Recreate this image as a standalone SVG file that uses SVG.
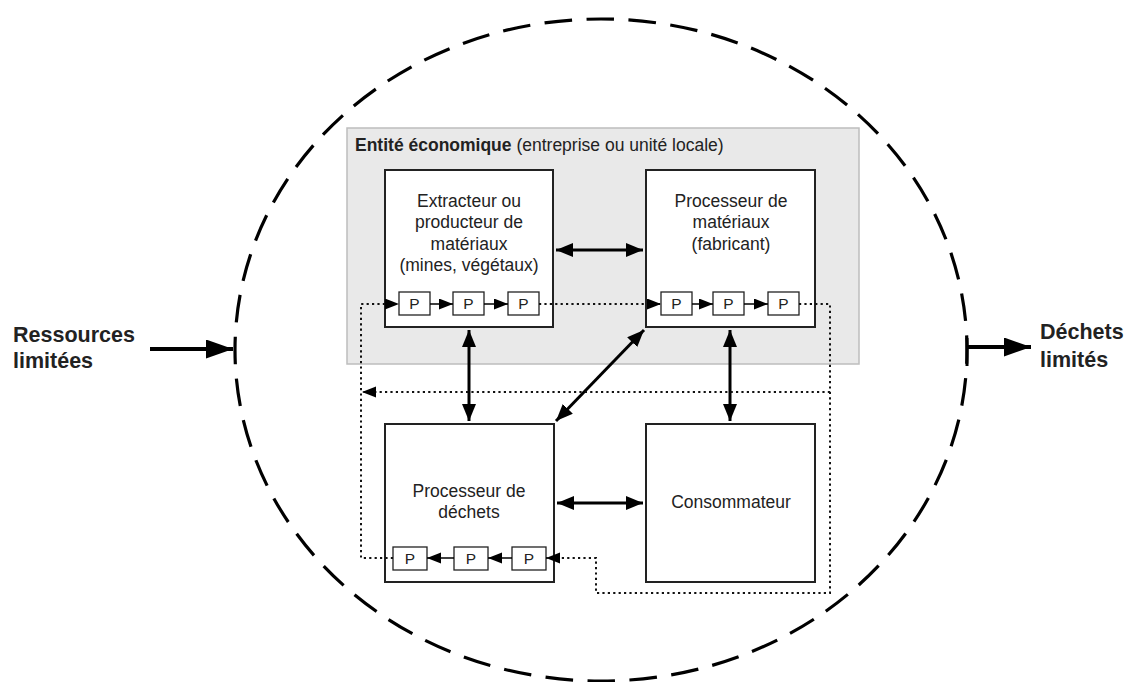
<svg xmlns="http://www.w3.org/2000/svg" width="1129" height="682" viewBox="0 0 1129 682">
<style>
text{font-family:"Liberation Sans",Arial,sans-serif;fill:#222}
.t{font-size:17.5px;text-anchor:middle}
.b{font-size:21.5px;font-weight:bold}
.p{font-size:15.5px;text-anchor:middle}
.box{fill:#fff;stroke:#222;stroke-width:2}
.pb{fill:#fff;stroke:#222;stroke-width:1.3}
.thick{fill:none;stroke:#000;stroke-width:3;marker-start:url(#th);marker-end:url(#th)}
.sm{fill:none;stroke:#000;stroke-width:1.5;marker-end:url(#sa)}
.dotA{fill:none;stroke:#111;stroke-width:2;stroke-dasharray:2.2 3.2;marker-end:url(#sa)}
</style>
<defs>
<marker id="th" markerUnits="userSpaceOnUse" markerWidth="18" markerHeight="15" refX="17" refY="7" orient="auto-start-reverse"><path d="M0,0 L17,7 L0,14 z" fill="#000"/></marker>
<marker id="sa" markerUnits="userSpaceOnUse" markerWidth="15" markerHeight="12" refX="14" refY="5.5" orient="auto"><path d="M0,0 L14,5.5 L0,11 z" fill="#000"/></marker>
<marker id="big" markerUnits="userSpaceOnUse" markerWidth="28" markerHeight="20" refX="27" refY="9.5" orient="auto"><path d="M0,0 L27,9.5 L0,19 z" fill="#000"/></marker>
</defs>

<ellipse id="boundary" cx="601" cy="350" rx="366" ry="331" fill="none" stroke="#000" stroke-width="3.2" stroke-dasharray="27.7 14.4" stroke-dashoffset="13.85"/>

<g id="entite">
<rect x="347" y="128" width="512" height="236" fill="#e9e9e9" stroke="#bdbdbd" stroke-width="1.5"/>
<text x="355" y="151" style="font-size:17.5px"><tspan font-weight="bold">Entité économique</tspan> (entreprise ou unité locale)</text>
</g>

<g id="extracteur">
<rect class="box" x="385" y="170" width="168" height="157"/>
<text class="t" x="469" y="207">Extracteur ou</text>
<text class="t" x="469" y="228">producteur de</text>
<text class="t" x="469" y="250">matériaux</text>
<text class="t" x="469" y="271">(mines, végétaux)</text>
<rect class="pb" x="399" y="292" width="31" height="23"/><text class="p" x="414.5" y="309">P</text>
<rect class="pb" x="453" y="292" width="31" height="23"/><text class="p" x="468.5" y="309">P</text>
<rect class="pb" x="508" y="292" width="31" height="23"/><text class="p" x="523.5" y="309">P</text>
</g>

<g id="processeur-materiaux">
<rect class="box" x="646" y="170" width="169" height="157"/>
<text class="t" x="731" y="207">Processeur de</text>
<text class="t" x="731" y="228">matériaux</text>
<text class="t" x="731" y="250">(fabricant)</text>
<rect class="pb" x="661" y="292" width="31" height="23"/><text class="p" x="676.5" y="309">P</text>
<rect class="pb" x="713" y="292" width="31" height="23"/><text class="p" x="728.5" y="309">P</text>
<rect class="pb" x="768" y="292" width="31" height="23"/><text class="p" x="783.5" y="309">P</text>
</g>

<g id="processeur-dechets">
<rect class="box" x="385" y="424" width="169" height="158"/>
<text class="t" x="469" y="497">Processeur de</text>
<text class="t" x="469" y="518">déchets</text>
<rect class="pb" x="393" y="547" width="34" height="23"/><text class="p" x="410" y="564">P</text>
<rect class="pb" x="454" y="547" width="34" height="23"/><text class="p" x="471" y="564">P</text>
<rect class="pb" x="512" y="547" width="34" height="23"/><text class="p" x="529" y="564">P</text>
</g>

<g id="consommateur">
<rect class="box" x="646" y="424" width="169" height="158"/>
<text class="t" x="731" y="508">Consommateur</text>
</g>

<g id="ressources">
<text class="b" x="13" y="342">Ressources</text>
<text class="b" x="13" y="368">limitées</text>
</g>
<g id="dechets">
<text class="b" x="1040" y="339">Déchets</text>
<text class="b" x="1040" y="367">limités</text>
</g>

<g id="connectors">
<path d="M150,349 H233" fill="none" stroke="#000" stroke-width="4" marker-end="url(#big)"/>
<path d="M967,338 V366" fill="none" stroke="#000" stroke-width="3"/>
<path d="M967,347 H1031" fill="none" stroke="#000" stroke-width="4" marker-end="url(#big)"/>

<path class="thick" d="M556,250 H643"/>
<path class="thick" d="M469,330 V421"/>
<path class="thick" d="M644,330 L556,421"/>
<path class="thick" d="M730,330 V421"/>
<path class="thick" d="M557,503 H643"/>

<path class="sm" d="M430,304 H453"/>
<path class="sm" d="M484,304 H508"/>
<path class="sm" d="M692,304 H713"/>
<path class="sm" d="M744,304 H768"/>
<path class="sm" d="M512,558 H488"/>
<path class="sm" d="M454,558 H427"/>

<path class="dotA" d="M393,558 H361 V304 H399"/>
<path class="dotA" d="M539,304 H661"/>
<path class="dotA" d="M799,304 H830 V593 H596 V558 H546"/>
<path class="dotA" d="M830,392 H362"/>
</g>
</svg>
